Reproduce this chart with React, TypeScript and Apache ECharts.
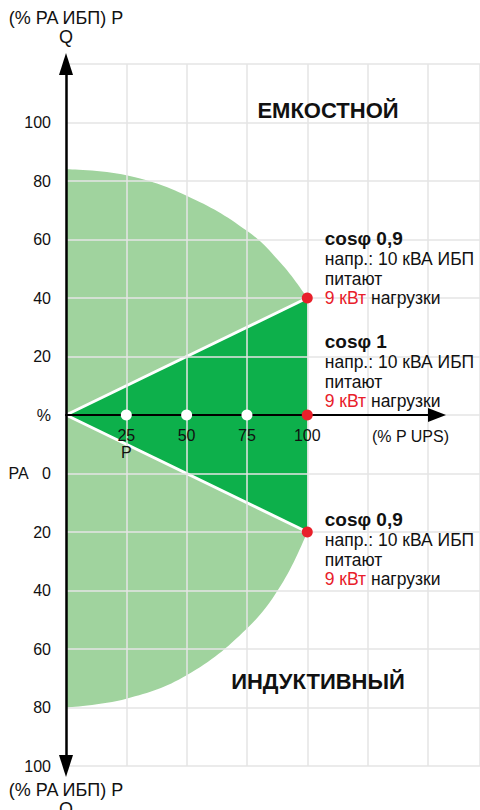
import React, { useEffect, useRef } from 'react';
import * as echarts from 'echarts';

const FONT = "'Liberation Sans', Arial, Helvetica, sans-serif";

// Tick values and labels
const X_TICKS = [25, 50, 75, 100];
const X_TICK_LABELS = ['25\nP', '50', '75', '100'];
const Y_TICKS = [100, 80, 60, 40, 20, 0, -20, -40, -60, -80, -100, -120];
const Y_TICK_LABELS = ['100', '80', '60', '40', '20', '%', 'PA\u00A0\u00A0\u00A00', '20', '40', '60', '80', '100'];

// Operating area boundary
const EDGE_P = [0, 25, 50, 75, 90, 100];
const UPPER_EDGE_Q = [84, 82, 75, 63, 51, 40];
const LOWER_EDGE_Q = [-100, -97, -89, -73, -57, -40];

// cos phi limits (origin -> full load)
const LIMIT_P = [0, 100];
const LIMIT_UP_Q = [0, 40];
const LIMIT_DOWN_Q = [0, -40];

// Marked P points on the axis
const MARK_P = [25, 50, 75];
const MARK_Q = [0, 0, 0];

// Full-load points
const LOAD_P = [100, 100, 100];
const LOAD_Q = [40, 0, -40];
const LOAD_TITLES = ['cosφ 0,9', 'cosφ 1', 'cosφ 0,9'];
const LOAD_LINE2 = 'напр.: 10 кВА ИБП';
const LOAD_LINE3 = 'питают';
const LOAD_RED = '9 кВт';
const LOAD_TAIL = 'нагрузки';
const LABEL_OFFSETS = [-30, -44, 17];

const LIGHT = '#a0d39e';
const DARK = '#0db04b';
const RED = '#e8202a';
const GRIDC = '#e4e4e4';
const TXT = '#111111';

const zip = (a: number[], b: number[]) => a.map((v, i) => [v, b[i]]);

export default function App() {
  const ref = useRef<HTMLDivElement>(null);
  useEffect(() => {
    document.body.style.margin = '0';
    const chart = echarts.init(ref.current!, null, { renderer: 'svg' });
    const yFmt = (v: number) => {
      const i = Y_TICKS.indexOf(Math.round(v));
      return i >= 0 ? Y_TICK_LABELS[i] : '';
    };
    const xFmt = (v: number) => {
      const i = X_TICKS.indexOf(Math.round(v * 1000) / 1000);
      return i >= 0 ? X_TICK_LABELS[i] : '';
    };
    const option: any = {
      animation: false,
      textStyle: { fontFamily: FONT },
      grid: [
        { left: 66, top: 64, right: 0, bottom: 44, outerBoundsMode: 'none', containLabel: false },
        { left: 66, top: 415, width: 371, bottom: 44, outerBoundsMode: 'none', containLabel: false },
      ],
      xAxis: [
        {
          gridIndex: 0, type: 'value', min: 0, max: 171.6, interval: 25,
          axisLine: { show: false }, axisTick: { show: false }, axisLabel: { show: false },
          splitLine: { show: true, lineStyle: { color: GRIDC, width: 1.5 } },
          z: 5,
        },
        {
          gridIndex: 1, type: 'value', position: 'top', min: 0, max: 153.8, interval: 25,
          axisLine: {
            show: true, onZero: false,
            lineStyle: { color: '#000', width: 2 },
            symbol: ['none', 'triangle'], symbolSize: [14, 18],
          },
          axisTick: { show: false },
          splitLine: { show: false },
          axisLabel: {
            inside: true, formatter: xFmt, margin: 12, fontSize: 16, color: TXT, lineHeight: 17,
            fontFamily: FONT, verticalAlign: 'top',
          },
          name: '(% P UPS)', nameLocation: 'end', nameGap: 12,
          nameTextStyle: { align: 'right', verticalAlign: 'top', padding: [13, 0, 0, 0], fontSize: 16, color: TXT, fontFamily: FONT },
          z: 6,
        },
      ],
      yAxis: [
        {
          gridIndex: 0, type: 'value', min: -120, max: 120, interval: 20,
          axisLine: {
            show: true, onZero: false,
            lineStyle: { color: '#000', width: 2.5 },
            symbol: ['triangle', 'triangle'], symbolSize: [14, 22],
          },
          axisTick: { show: false },
          axisLabel: { formatter: yFmt, margin: 15, fontSize: 16, color: TXT, fontFamily: FONT },
          splitLine: { show: true, lineStyle: { color: GRIDC, width: 1.5 } },
          name: '(% PA ИБП) P\nQ', nameLocation: 'end', nameGap: 18,
          nameTextStyle: { fontSize: 18, lineHeight: 19, color: TXT, align: 'center', fontFamily: FONT },
          z: 5,
        },
        {
          gridIndex: 1, type: 'value', min: -120, max: 0, interval: 20,
          axisLine: { show: false }, axisTick: { show: false }, axisLabel: { show: false },
          splitLine: { show: false },
          name: '(% PA ИБП) P\nQ', nameLocation: 'start', nameGap: 14,
          nameTextStyle: { fontSize: 18, lineHeight: 19, color: TXT, align: 'center', verticalAlign: 'top', fontFamily: FONT },
        },
      ],
      graphic: [
        { type: 'text', x: 328, y: 110, z: 20, style: { text: 'ЕМКОСТНОЙ', fill: TXT, fontSize: 22, fontWeight: 'bold', fontFamily: FONT, align: 'center', verticalAlign: 'middle' } },
        { type: 'text', x: 318, y: 681, z: 20, style: { text: 'ИНДУКТИВНЫЙ', fill: TXT, fontSize: 22, fontWeight: 'bold', fontFamily: FONT, align: 'center', verticalAlign: 'middle' } },
      ],
      series: [
        {
          type: 'line', data: zip(EDGE_P, UPPER_EDGE_Q),
          smooth: 0.4, symbol: 'none', silent: true,
          lineStyle: { width: 0, color: LIGHT }, areaStyle: { color: LIGHT, opacity: 1 },
        },
        {
          type: 'line', data: zip(EDGE_P, LOWER_EDGE_Q),
          smooth: 0.4, symbol: 'none', silent: true,
          lineStyle: { width: 0, color: LIGHT }, areaStyle: { color: LIGHT, opacity: 1 },
        },
        {
          type: 'line', data: zip(LIMIT_P, LIMIT_UP_Q),
          symbol: 'none', silent: true,
          lineStyle: { width: 3, color: '#fff' }, areaStyle: { color: DARK, opacity: 1 },
        },
        {
          type: 'line', data: zip(LIMIT_P, LIMIT_DOWN_Q),
          symbol: 'none', silent: true,
          lineStyle: { width: 3, color: '#fff' }, areaStyle: { color: DARK, opacity: 1 },
        },
        {
          type: 'scatter', data: zip(MARK_P, MARK_Q),
          symbolSize: 11, itemStyle: { color: '#fff', opacity: 1 }, z: 10, silent: true,
        },
        {
          type: 'scatter',
          data: LOAD_P.map((p, i) => ({ value: [p, LOAD_Q[i]], label: { offset: [0, LABEL_OFFSETS[i]] } })),
          symbolSize: 11, itemStyle: { color: RED, opacity: 1 }, z: 10, silent: true,
          label: {
            show: true, position: 'right', distance: 12,
            formatter: (p: any) =>
              `{b|${LOAD_TITLES[p.dataIndex]}}\n{n|${LOAD_LINE2}}\n{n|${LOAD_LINE3}}\n{r|${LOAD_RED}}{n| ${LOAD_TAIL}}`,
            rich: {
              b: { fontSize: 19, fontWeight: 'bold', lineHeight: 21, color: TXT, fontFamily: FONT },
              n: { fontSize: 17.5, lineHeight: 19.5, color: TXT, fontFamily: FONT },
              r: { fontSize: 17.5, lineHeight: 19.5, color: RED, fontFamily: FONT },
            },
          },
        },
      ],
    };
    chart.setOption(option);
    return () => chart.dispose();
  }, []);
  return <div ref={ref} style={{ width: 480, height: 810 }} />;
}
